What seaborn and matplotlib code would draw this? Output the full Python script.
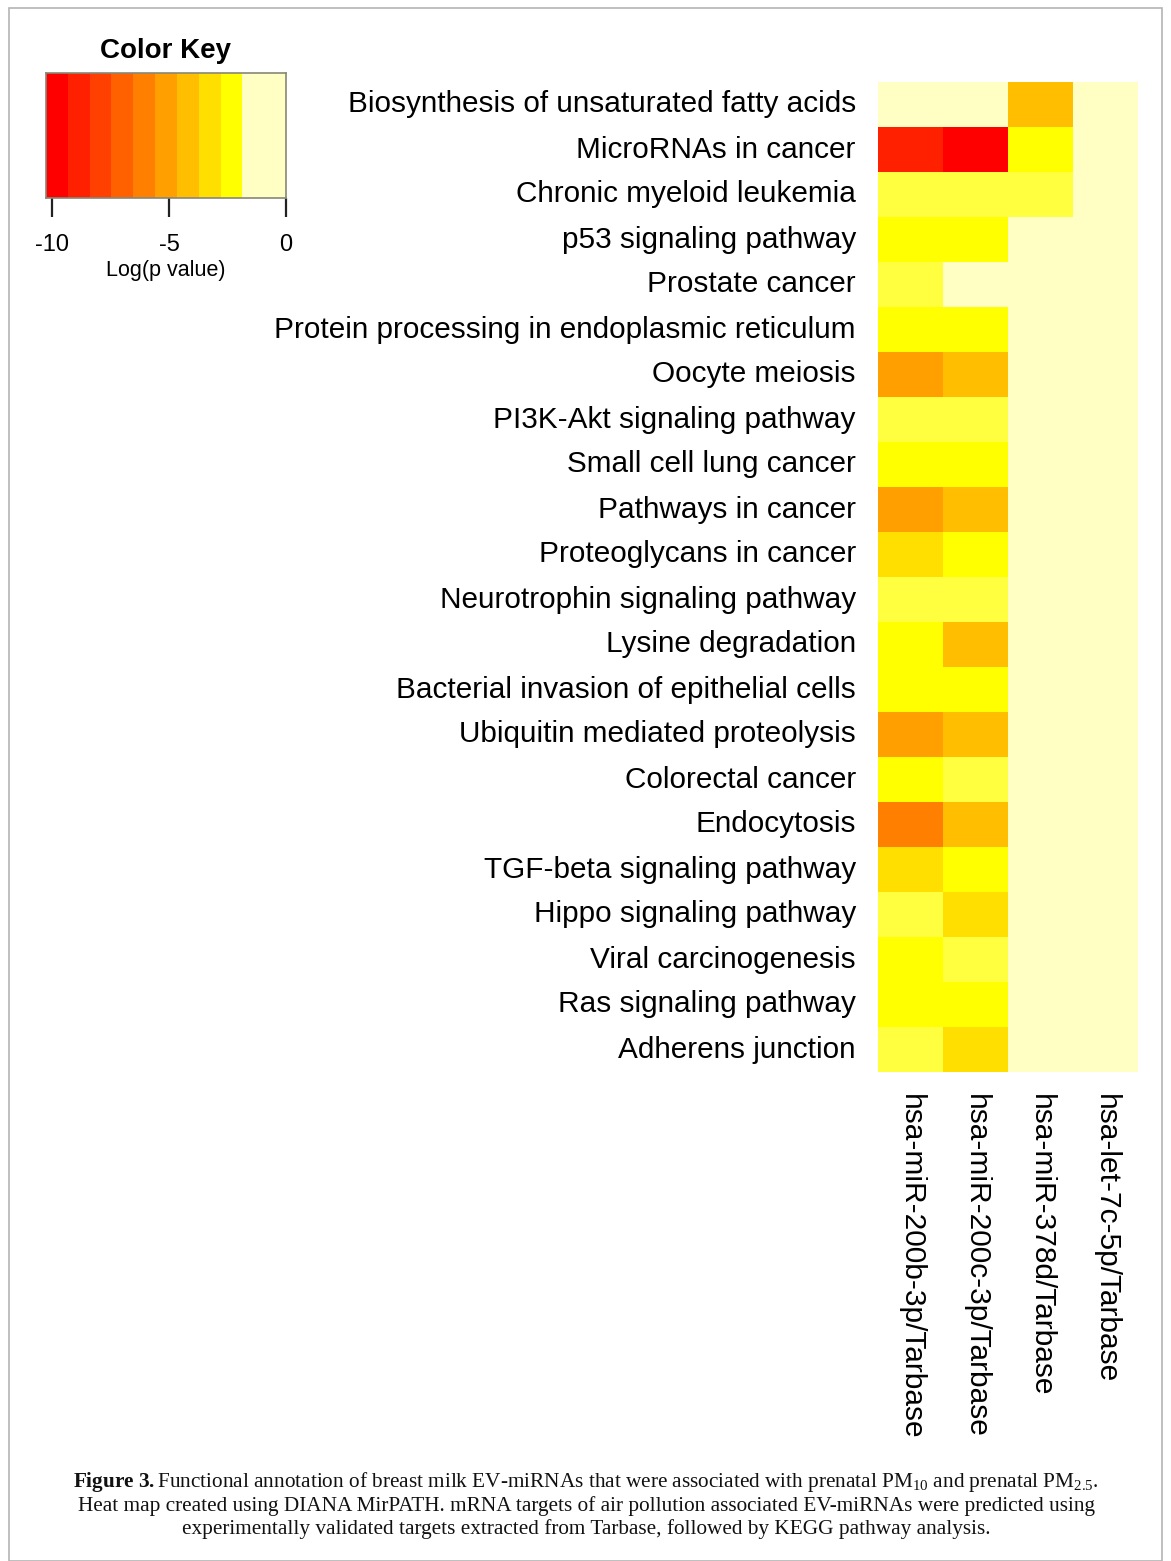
import numpy as np
import pandas as pd
import matplotlib
matplotlib.use("Agg")
import matplotlib.pyplot as plt
import seaborn as sns
from matplotlib.colors import ListedColormap, BoundaryNorm
from matplotlib.patches import Rectangle

# ---------------- data ----------------
pathways = [
    "Biosynthesis of unsaturated fatty acids",
    "MicroRNAs in cancer",
    "Chronic myeloid leukemia",
    "p53 signaling pathway",
    "Prostate cancer",
    "Protein processing in endoplasmic reticulum",
    "Oocyte meiosis",
    "PI3K-Akt signaling pathway",
    "Small cell lung cancer",
    "Pathways in cancer",
    "Proteoglycans in cancer",
    "Neurotrophin signaling pathway",
    "Lysine degradation",
    "Bacterial invasion of epithelial cells",
    "Ubiquitin mediated proteolysis",
    "Colorectal cancer",
    "Endocytosis",
    "TGF-beta signaling pathway",
    "Hippo signaling pathway",
    "Viral carcinogenesis",
    "Ras signaling pathway",
    "Adherens junction",
]
mirnas = [
    "hsa-miR-200b-3p/Tarbase",
    "hsa-miR-200c-3p/Tarbase",
    "hsa-miR-378d/Tarbase",
    "hsa-let-7c-5p/Tarbase",
]
# log(p value) per miRNA (0 = not significant)
mir200b = [0, -8.9, -2.0, -2.5, -2.0, -2.5, -5.1, -2.0, -2.5, -5.1, -3.3,
           -2.0, -2.5, -2.5, -5.1, -2.5, -6.1, -3.3, -2.0, -2.5, -2.5, -2.0]
mir200c = [0, -9.8, -2.0, -2.5, 0, -2.5, -4.2, -2.0, -2.5, -4.2, -2.5,
           -2.0, -4.2, -2.5, -4.2, -2.0, -4.2, -2.5, -3.3, -2.0, -2.5, -3.3]
mir378d = [-4.2, -2.5, -2.0, 0, 0, 0, 0, 0, 0, 0, 0,
           0, 0, 0, 0, 0, 0, 0, 0, 0, 0, 0]
let7c = [0] * 22

# colour key (log p value bins)
key_breaks = [-10.27, -9.336, -8.403, -7.469, -6.535, -5.602, -4.668,
              -3.735, -2.801, -1.867, -0.934, 0.0]
key_colors = ["#FF0000", "#FF2000", "#FF4000", "#FF6000", "#FF7F00",
              "#FF9F00", "#FFBF00", "#FFDF00", "#FFFF00", "#FFFFC4", "#FFFFC4"]
key_ticks = [-10, -5, 0]

# cell colours (same scale, with a lighter yellow step near -2)
cell_breaks = [-10.27, -9.336, -8.403, -7.469, -6.535, -5.602, -4.668,
               -3.735, -2.801, -2.2, -1.867, 0.5]
cell_colors = ["#FF0000", "#FF2000", "#FF4000", "#FF6000", "#FF7F00",
               "#FF9F00", "#FFBF00", "#FFDF00", "#FFFF00", "#FFFF40", "#FFFFC4"]

caption_lines = [
    r"$\mathbf{Figure\ 3.}$Functional annotation of breast milk EV-miRNAs that were associated with prenatal PM$_{10}$ and prenatal PM$_{2.5}$.",
    "Heat map created using DIANA MirPATH. mRNA targets of air pollution associated EV-miRNAs were predicted using",
    "experimentally validated targets extracted from Tarbase, followed by KEGG pathway analysis.",
]

# ---------------- figure ----------------
sns.set_style("white")
plt.rcParams["font.family"] = ["Liberation Sans", "DejaVu Sans"]
plt.rcParams["text.color"] = "black"
plt.rcParams["xtick.color"] = "black"
plt.rcParams["ytick.color"] = "black"
plt.rcParams["axes.labelcolor"] = "black"
plt.rcParams["mathtext.fontset"] = "custom"
plt.rcParams["mathtext.rm"] = "Liberation Serif"
plt.rcParams["mathtext.bf"] = "Liberation Serif:bold"
plt.rcParams["mathtext.it"] = "Liberation Serif:italic"

W, H = 1171, 1561
fig = plt.figure(figsize=(W / 100, H / 100), dpi=100)

def fax(x0, y0, x1, y1):
    return fig.add_axes([x0 / W, 1 - y1 / H, (x1 - x0) / W, (y1 - y0) / H])

# heatmap
df = pd.DataFrame({mirnas[0]: mir200b, mirnas[1]: mir200c,
                   mirnas[2]: mir378d, mirnas[3]: let7c}, index=pathways)
ax = fax(878, 82, 1138, 1072)
cmap = ListedColormap(cell_colors)
norm = BoundaryNorm(cell_breaks, cmap.N)
sns.heatmap(df, ax=ax, cmap=cmap, norm=norm, cbar=False,
            xticklabels=True, yticklabels=True, linewidths=0)
ax.tick_params(axis="both", length=0)
ax.tick_params(axis="y", pad=16)
ax.tick_params(axis="x", pad=16)
ax.set_yticklabels(pathways, fontsize=21.4, rotation=0, color="black")
ax.set_xticklabels(mirnas, fontsize=21.5, rotation=270, color="black")
ax.set_xlabel("")
ax.set_ylabel("")

# colour key
kax = fax(46, 73, 286, 198)
kax.pcolormesh(np.array(key_breaks), np.array([0, 1]),
               np.arange(len(key_colors)).reshape(1, -1),
               cmap=ListedColormap(key_colors), shading="flat")
kax.set_xlim(key_breaks[0], key_breaks[-1])
kax.set_ylim(0, 1)
kax.set_yticks([])
kax.set_xticks(key_ticks)
kax.set_xticklabels([str(t) for t in key_ticks], fontsize=17)
kax.tick_params(axis="x", length=14, width=1.6, color="#222222", pad=12,
                direction="out", bottom=True)
for s in kax.spines.values():
    s.set_color("#888877")
    s.set_linewidth(1.2)
kax.set_title("Color Key", fontsize=20, fontweight="bold", pad=11)
kax.set_xlabel("Log(p value)", fontsize=15.5, labelpad=3)

# caption
ys = [1482, 1506, 1529]
for line, y in zip(caption_lines, ys):
    fig.text(0.5 * (76 + 1096) / W, 1 - y / H, line, ha="center", va="center",
             fontsize=15.3, family="Liberation Serif", color="#111111")

# frame
fig.patches.append(Rectangle((9 / W, 1 - 1561 / H), (1162 - 9) / W,
                             (1561 - 8) / H, transform=fig.transFigure,
                             fill=False, edgecolor="#b4b4b4", linewidth=1.2))

fig.savefig("out.png", dpi=100)
